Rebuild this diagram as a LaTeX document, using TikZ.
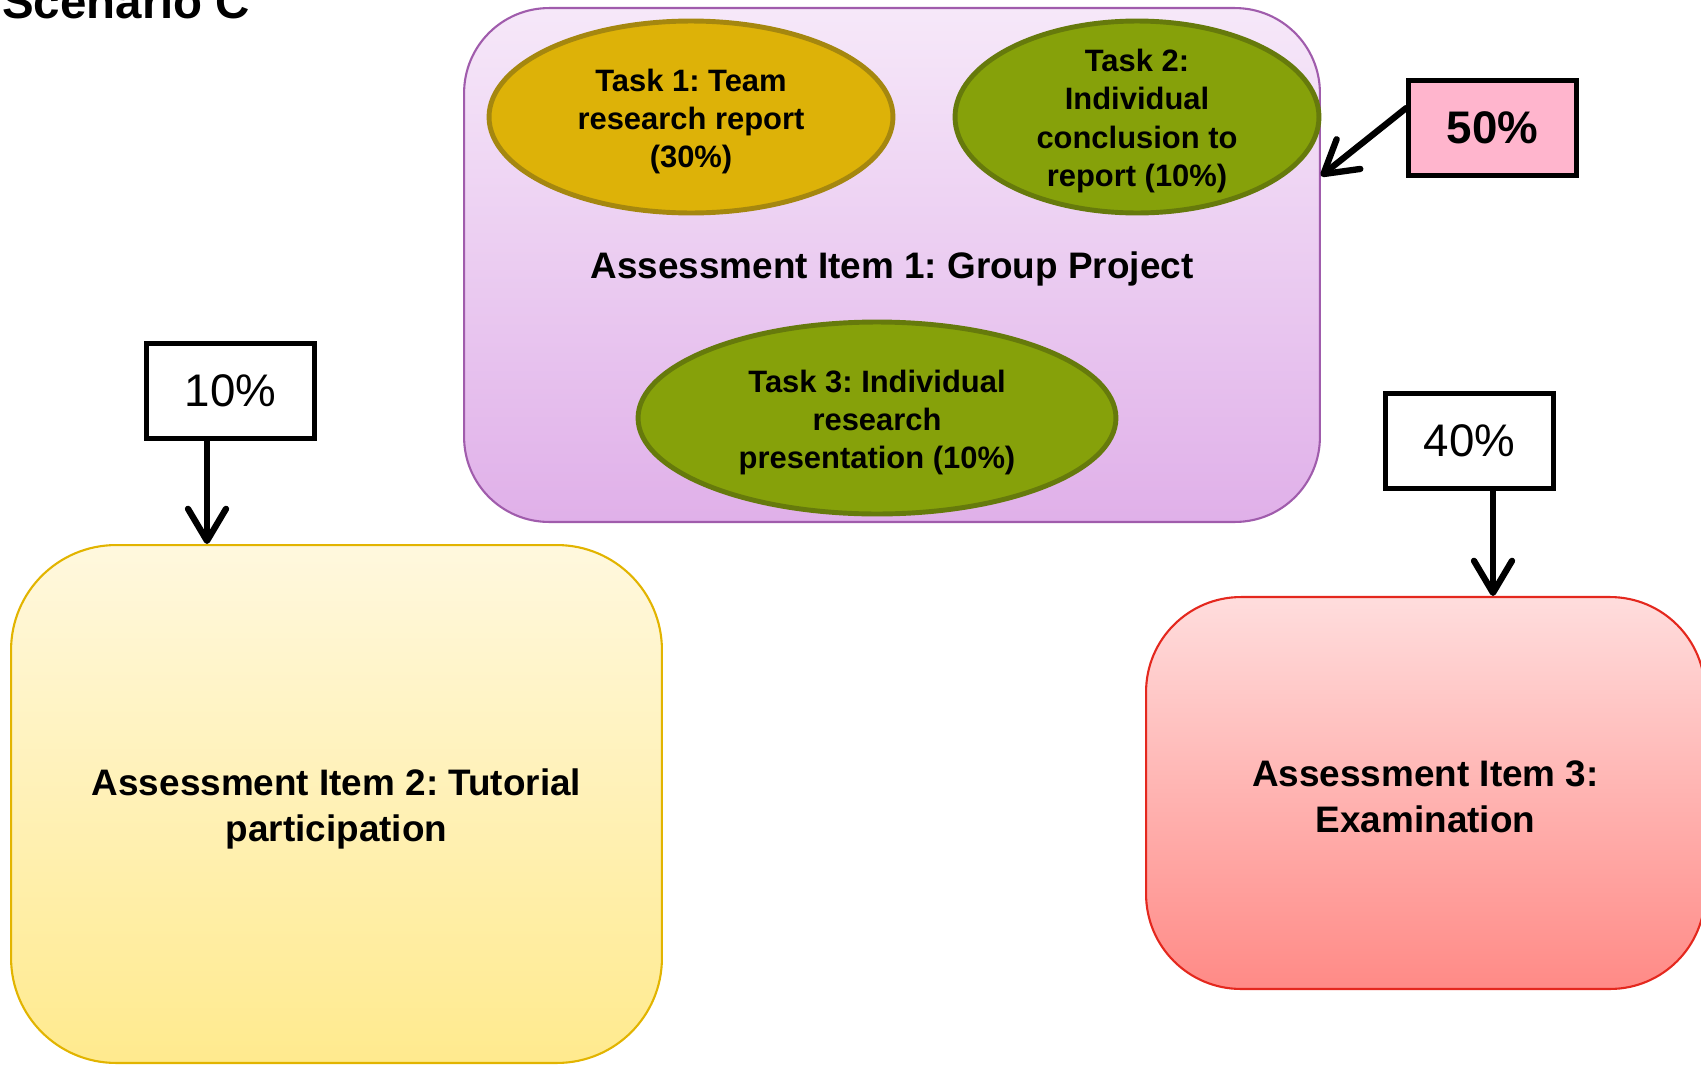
\documentclass[tikz,border=0pt]{standalone}
\usepackage{fontspec}
\setmainfont{Liberation Sans}
\frenchspacing
\usetikzlibrary{shapes.geometric,arrows.meta}
\definecolor{purpT}{RGB}{246,232,249}
\definecolor{purpB}{RGB}{224,176,233}
\definecolor{purpD}{RGB}{160,92,172}
\definecolor{goldF}{RGB}{221,178,8}
\definecolor{goldD}{RGB}{165,135,15}
\definecolor{grnF}{RGB}{134,161,10}
\definecolor{grnD}{RGB}{102,122,12}
\definecolor{yelT}{RGB}{255,248,222}
\definecolor{yelB}{RGB}{255,234,142}
\definecolor{yelD}{RGB}{226,180,0}
\definecolor{redT}{RGB}{255,221,221}
\definecolor{redB}{RGB}{255,138,134}
\definecolor{redD}{RGB}{228,40,30}
\definecolor{pinkF}{RGB}{255,181,205}
\newcommand\lowerby[1]{\rule{0pt}{#1}}
\tikzset{
  bigbox/.style={rounded corners=1.9cm, line width=1.2pt, align=center, inner sep=0pt,
    font=\bfseries\fontsize{21}{26.4}\selectfont},
  task/.style={ellipse, inner sep=-5mm, line width=2.8pt, align=center,
    minimum height=3.84cm, font=\bfseries\fontsize{17.6}{21.8}\selectfont},
  pct/.style={draw=black, line width=2.6pt, minimum width=3.36cm, minimum height=1.9cm,
    inner sep=0pt, font=\fontsize{26}{30}\selectfont},
  weight/.style={line width=3.6pt, line cap=round,
    -{Straight Barb[length=0.64cm, width=0.76cm, round]}}
}
\begin{document}
\begin{tikzpicture}[x=0.02cm, y=-0.02cm]
\useasboundingbox (0,0) rectangle (1701,1065);
% title
\node[anchor=base west, inner sep=0pt, font=\bfseries\fontsize{27}{32}\selectfont] (title) at (2,18) {Scenario C};
% Assessment item 1
\node[bigbox, rounded corners=1.7cm, draw=purpD, top color=purpT, bottom color=purpB,
  minimum width=17.12cm, minimum height=10.28cm] (item1) at (892,265) {};
\node[font=\bfseries\fontsize{21}{26.4}\selectfont] (item1lbl) at (892,269) {Assessment Item 1: Group Project};
\node[task, draw=goldD, fill=goldF, minimum width=8.08cm] (t1) at (691,117) {\lowerby{17.8pt}Task 1: Team\\research report\\(30\%)};
\node[task, draw=grnD, fill=grnF, minimum width=7.28cm] (t2) at (1137,117) {\lowerby{17.3pt}Task 2:\\Individual\\conclusion to\\report (10\%)};
\node[task, draw=grnD, fill=grnF, minimum width=9.56cm] (t3) at (877,418) {\lowerby{17.8pt}Task 3: Individual\\research\\presentation (10\%)};
% Assessment item 2
\node[bigbox, rounded corners=2.1cm, draw=yelD, top color=yelT, bottom color=yelB,
  minimum width=13.02cm, minimum height=10.36cm] (item2) at (336.5,804) {\lowerby{21pt}Assessment Item 2: Tutorial\\participation};
% Assessment item 3
\node[bigbox, draw=redD, top color=redT, bottom color=redB,
  minimum width=11.18cm, minimum height=7.84cm] (item3) at (1425.5,793) {\lowerby{18.7pt}Assessment Item 3:\\Examination};
% weights
\node[pct, fill=pinkF, font=\bfseries\fontsize{26}{30}\selectfont] (p50) at (1492.5,128) {50\%};
\node[pct, fill=white] (p10) at (230.5,391) {10\%};
\node[pct, fill=white] (p40) at (1469.5,441) {40\%};
% connectors
\draw[weight] ([yshift=0.4cm]p50.west) -- ([yshift=1.78cm]item1.east);
\draw[weight] ([xshift=-0.47cm]p10.south) -- ([xshift=-0.47cm]p10.south |- item2.north);
\draw[weight] ([xshift=0.47cm]p40.south) -- ([xshift=0.47cm]p40.south |- item3.north);
\end{tikzpicture}
\end{document}
